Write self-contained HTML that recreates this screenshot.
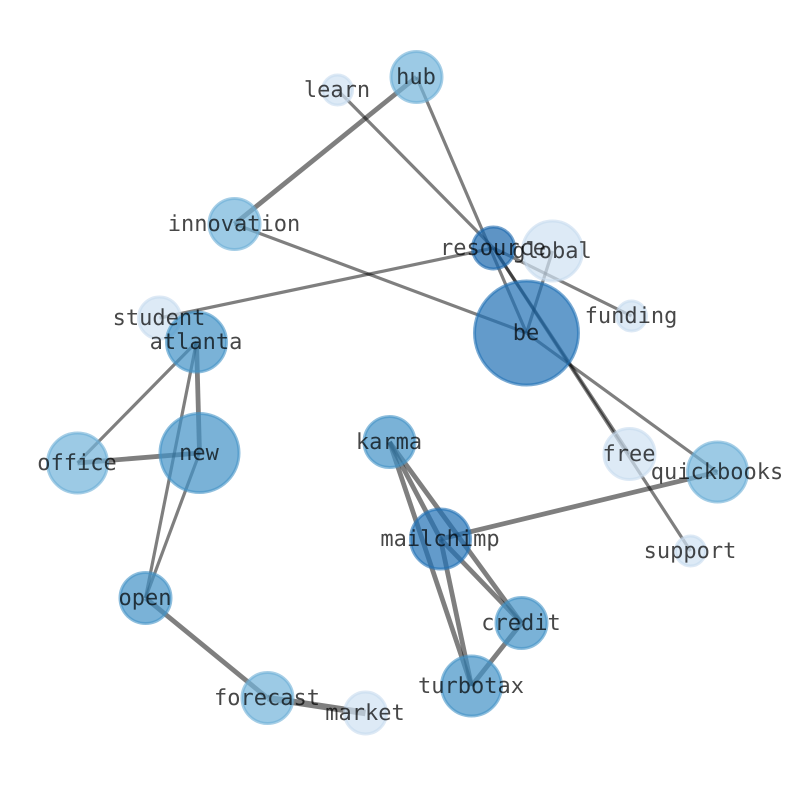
<!DOCTYPE html>
<html><head><meta charset="utf-8"><style>
html,body{margin:0;padding:0;background:#fff}
svg{display:block}
text{font-family:"DejaVu Sans Mono","Liberation Mono",monospace;font-size:22px;fill:#000;fill-opacity:.72;text-anchor:middle;text-rendering:geometricPrecision}
.e line{stroke:#000;stroke-opacity:.5;stroke-width:3.2}
.e line.t{stroke-width:4.8}
.e line.x{stroke-width:6.5}
circle{stroke-width:3;fill-opacity:.7;stroke-opacity:.6}
.a{fill:#cfe1f2;stroke:#c6dbef}
.b{fill:#72b4da;stroke:#6baed6}
.c{fill:#4292c6;stroke:#4292c6}
.d{fill:#2171b5;stroke:#2171b5}
.f{fill:#1a67ad;stroke:#1a67ad}
</style></head><body>
<svg width="794" height="790" viewBox="0 0 794 790" xmlns="http://www.w3.org/2000/svg">
<g transform="translate(0.5,0)">
<g class="e">
<line class="t" x1="416" y1="77" x2="234" y2="224"/>
<line x1="416" y1="77" x2="526" y2="333"/>
<line x1="337" y1="90" x2="493" y2="248"/>
<line x1="234" y1="224" x2="526" y2="333"/>
<line x1="493" y1="248" x2="159" y2="318"/>
<line x1="493" y1="248" x2="631" y2="316"/>
<line x1="493" y1="248" x2="629" y2="454"/>
<line x1="493" y1="248" x2="690" y2="551"/>
<line x1="526" y1="333" x2="717" y2="472"/>
<line x1="552" y1="251" x2="526" y2="333"/>
<line x1="196" y1="342" x2="77" y2="463"/>
<line class="t" x1="196" y1="342" x2="199" y2="453"/>
<line x1="196" y1="342" x2="145" y2="598"/>
<line class="t" x1="77" y1="463" x2="199" y2="453"/>
<line x1="199" y1="453" x2="145" y2="598"/>
<line class="t" x1="145" y1="598" x2="267" y2="698"/>
<line class="x" x1="267" y1="698" x2="365" y2="713"/>
<line class="t" x1="389" y1="442" x2="440" y2="539"/>
<line class="t" x1="389" y1="442" x2="521" y2="623"/>
<line class="t" x1="389" y1="442" x2="471" y2="686"/>
<line class="t" x1="440" y1="539" x2="521" y2="623"/>
<line class="t" x1="440" y1="539" x2="471" y2="686"/>
<line class="t" x1="440" y1="539" x2="717" y2="472"/>
<line class="t" x1="521" y1="623" x2="471" y2="686"/>
</g>
<g>
<circle class="b" cx="416" cy="77" r="25.5"/>
<circle class="a" cx="337" cy="90" r="15"/>
<circle class="b" cx="234" cy="224" r="25.5"/>
<circle class="f" cx="493" cy="248" r="21"/>
<circle class="a" cx="552" cy="251" r="30"/>
<circle class="a" cx="631" cy="316" r="15"/>
<circle class="d" cx="526" cy="333" r="52"/>
<circle class="a" cx="159" cy="318" r="21"/>
<circle class="c" cx="196" cy="342" r="30"/>
<circle class="b" cx="77" cy="463" r="30"/>
<circle class="c" cx="199" cy="453" r="39.5"/>
<circle class="c" cx="389" cy="442" r="25.5"/>
<circle class="a" cx="629" cy="454" r="25.5"/>
<circle class="b" cx="717" cy="472" r="30"/>
<circle class="d" cx="440" cy="539" r="30"/>
<circle class="a" cx="690" cy="551" r="15"/>
<circle class="c" cx="145" cy="598" r="25.5"/>
<circle class="c" cx="521" cy="623" r="25.5"/>
<circle class="c" cx="471" cy="686" r="30"/>
<circle class="b" cx="267" cy="698" r="25.5"/>
<circle class="a" cx="365" cy="713" r="21"/>
</g>
<g transform="translate(-0.5,0)">
<text x="416" y="84">hub</text>
<text x="337" y="97">learn</text>
<text x="234" y="231">innovation</text>
<text x="493" y="255">resource</text>
<text x="552" y="258">global</text>
<text x="631" y="323">funding</text>
<text x="526" y="340">be</text>
<text x="159" y="325">student</text>
<text x="196" y="349">atlanta</text>
<text x="77" y="470">office</text>
<text x="199" y="460">new</text>
<text x="389" y="449">karma</text>
<text x="629" y="461">free</text>
<text x="717" y="479">quickbooks</text>
<text x="440" y="546">mailchimp</text>
<text x="690" y="558">support</text>
<text x="145" y="605">open</text>
<text x="521" y="630">credit</text>
<text x="471" y="693">turbotax</text>
<text x="267" y="705">forecast</text>
<text x="365" y="720">market</text>
</g>
</g>
</svg>
</body></html>
